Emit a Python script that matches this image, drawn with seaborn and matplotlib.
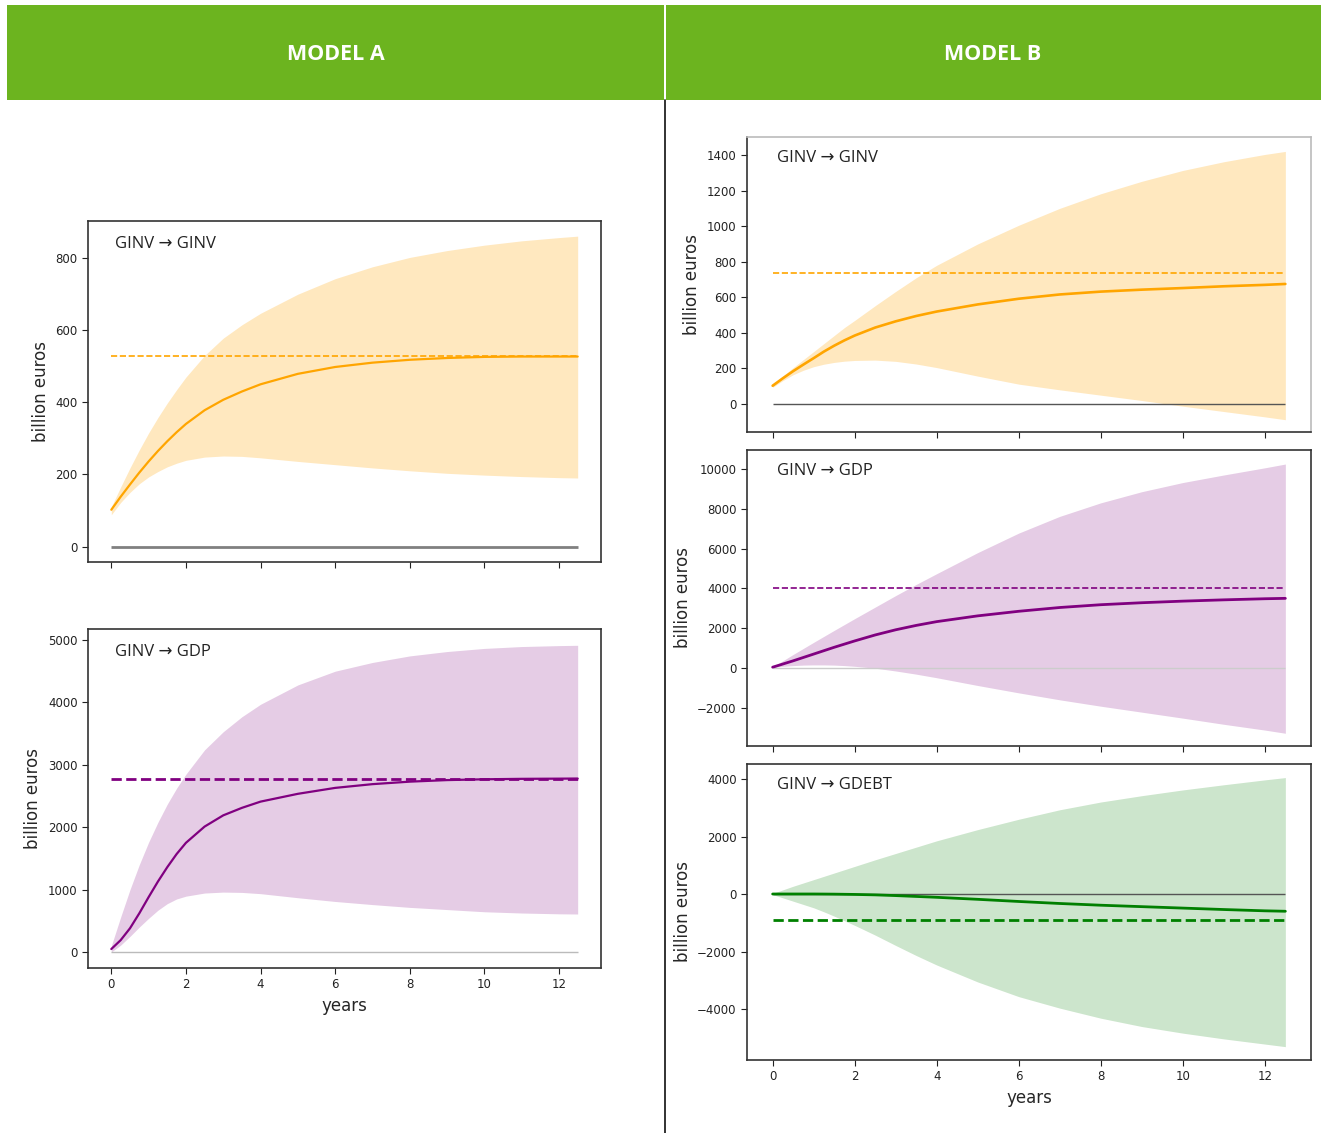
import numpy as np
import pandas as pd
import matplotlib
matplotlib.use("Agg")
import matplotlib.pyplot as plt
from matplotlib.patches import Rectangle
from matplotlib.lines import Line2D
import seaborn as sns

# years after the shock
years = [0, 0.25, 0.5, 0.75, 1, 1.25, 1.5, 1.75, 2, 2.5, 3, 3.5, 4, 5, 6, 7, 8, 9, 10, 11, 12, 12.5]

# model A, GINV -> GINV
a_ginv_med = [102, 138, 172, 205, 236, 265, 292, 317, 340, 378, 407, 430, 450, 479, 498, 510, 518, 523, 526, 527, 527, 527]
a_ginv_lo = [88, 122, 150, 174, 193, 208, 221, 231, 239, 248, 251, 250, 246, 236, 227, 218, 210, 203, 198, 194, 191, 190]
a_ginv_hi = [110, 165, 218, 268, 315, 358, 398, 435, 470, 530, 578, 615, 647, 700, 743, 776, 802, 821, 836, 848, 857, 861]
a_ginv_lr = 528

# model A, GINV -> GDP
a_gdp_med = [48, 190, 380, 620, 880, 1130, 1360, 1570, 1750, 2010, 2190, 2310, 2410, 2535, 2630, 2690, 2730, 2755, 2768, 2775, 2778, 2780]
a_gdp_lo = [0, 110, 250, 400, 540, 670, 775, 850, 895, 945, 960, 955, 935, 870, 810, 760, 715, 680, 645, 625, 612, 609]
a_gdp_hi = [100, 560, 1000, 1400, 1760, 2080, 2370, 2625, 2850, 3240, 3530, 3770, 3970, 4280, 4500, 4640, 4745, 4815, 4865, 4895, 4910, 4915]
a_gdp_lr = 2780

# model B, GINV -> GINV
b_ginv_med = [103, 145, 185, 222, 258, 295, 328, 358, 385, 430, 465, 495, 520, 560, 592, 616, 632, 643, 652, 662, 670, 675]
b_ginv_lo = [94, 132, 165, 190, 210, 224, 234, 241, 245, 247, 240, 225, 205, 157, 112, 80, 50, 20, -12, -42, -72, -88]
b_ginv_hi = [110, 158, 205, 250, 295, 340, 385, 430, 470, 553, 633, 710, 780, 900, 1005, 1100, 1182, 1252, 1313, 1362, 1403, 1420]
b_ginv_lr = 737

# model B, GINV -> GDP
b_gdp_med = [40, 200, 360, 530, 700, 870, 1040, 1200, 1360, 1660, 1920, 2140, 2330, 2620, 2850, 3040, 3180, 3280, 3360, 3425, 3480, 3500]
b_gdp_lo = [30, 85, 120, 145, 155, 155, 145, 120, 85, -10, -150, -310, -490, -880, -1250, -1600, -1920, -2220, -2520, -2830, -3120, -3280]
b_gdp_hi = [50, 365, 680, 985, 1290, 1590, 1890, 2185, 2480, 3060, 3640, 4200, 4740, 5800, 6780, 7620, 8300, 8860, 9320, 9700, 10060, 10250]
b_gdp_lr = 4000

# model B, GINV -> GDEBT
b_debt_med = [0, 0, 0, 0, 0, -2, -5, -10, -15, -30, -55, -85, -115, -185, -260, -330, -390, -440, -490, -540, -585, -600]
b_debt_lo = [-20, -135, -250, -365, -480, -620, -770, -930, -1090, -1430, -1790, -2140, -2470, -3060, -3570, -3970, -4320, -4610, -4840, -5040, -5220, -5310]
b_debt_hi = [20, 145, 270, 385, 500, 615, 730, 845, 960, 1190, 1410, 1630, 1850, 2240, 2600, 2930, 3200, 3420, 3620, 3800, 3970, 4050]
b_debt_lr = -900

sns.set_style("ticks")
plt.rcParams['font.family'] = ['DejaVu Sans']

W, H = 1321, 1133
fig = plt.figure(figsize=(W / 100, H / 100), dpi=100)

green = '#6cb41f'
fig.add_artist(Rectangle((7 / W, 1 - 100 / H), 657 / W, 95 / H, transform=fig.transFigure, color=green, lw=0))
fig.add_artist(Rectangle((666 / W, 1 - 100 / H), 655 / W, 95 / H, transform=fig.transFigure, color=green, lw=0))
fig.add_artist(Line2D([665 / W, 665 / W], [0, 1 - 100 / H], transform=fig.transFigure, color='#222222', lw=1.3))
fig.text(336 / W, 1 - 55 / H, "MODEL A", color='white', fontsize=15.5, fontweight='bold',
         ha='center', va='center', family=['Open Sans', 'DejaVu Sans'])
fig.text(993 / W, 1 - 55 / H, "MODEL B", color='white', fontsize=15.5, fontweight='bold',
         ha='center', va='center', family=['Open Sans', 'DejaVu Sans'])


def px_axes(x0, y0, x1, y1):
    return fig.add_axes([x0 / W, 1 - y1 / H, (x1 - x0) / W, (y1 - y0) / H])


def panel(ax, title, med, lo, hi, lr, color, alpha, ylim, yticks,
          lr_lw=1.2, med_lw=1.6, zero_color='gray', zero_lw=1.0, xlabels=False):
    df = pd.DataFrame({'years': years, 'med': med, 'lo': lo, 'hi': hi})
    ax.fill_between(df['years'], df['lo'], df['hi'], color=color, alpha=alpha, lw=0)
    ax.hlines(0, years[0], years[-1], color=zero_color, lw=zero_lw)
    ax.hlines(lr, years[0], years[-1], color=color, lw=lr_lw, linestyles='--')
    sns.lineplot(data=df, x='years', y='med', color=color, lw=med_lw, ax=ax)
    ax.set_xlim(-0.625, 13.125)
    ax.set_ylim(*ylim)
    ax.set_xticks([0, 2, 4, 6, 8, 10, 12])
    ax.set_yticks(yticks)
    ax.tick_params(labelsize=8.5, length=4, colors='#222222')
    if not xlabels:
        ax.set_xticklabels([])
        ax.set_xlabel('')
    else:
        ax.set_xlabel('years', fontsize=12)
    ax.set_ylabel('billion euros', fontsize=12)
    for s in ax.spines.values():
        s.set_color('#333333')
        s.set_linewidth(1.2)
    ax.text(0.053, 0.955, title, transform=ax.transAxes, ha='left', va='top',
            fontsize=12, color='#222222', family=['Open Sans', 'DejaVu Sans'])


ax1 = px_axes(88, 221, 601, 562)
panel(ax1, "GINV \u2192 GINV", a_ginv_med, a_ginv_lo, a_ginv_hi, a_ginv_lr, 'orange', 0.25,
      (-43, 903), [0, 200, 400, 600, 800], zero_lw=2.0)

ax2 = px_axes(88, 629, 601, 968)
panel(ax2, "GINV \u2192 GDP", a_gdp_med, a_gdp_lo, a_gdp_hi, a_gdp_lr, 'purple', 0.2,
      (-256, 5176), [0, 1000, 2000, 3000, 4000, 5000], lr_lw=2.0, zero_color='#bbbbbb', xlabels=True)

ax3 = px_axes(747, 137, 1311, 432)
panel(ax3, "GINV \u2192 GINV", b_ginv_med, b_ginv_lo, b_ginv_hi, b_ginv_lr, 'orange', 0.25,
      (-157, 1501), [0, 200, 400, 600, 800, 1000, 1200, 1400], med_lw=1.9, zero_color='#555555')
ax3.spines['top'].set_color('#bbbbbb')
ax3.spines['right'].set_color('#bbbbbb')

ax4 = px_axes(747, 450, 1311, 746)
panel(ax4, "GINV \u2192 GDP", b_gdp_med, b_gdp_lo, b_gdp_hi, b_gdp_lr, 'purple', 0.2,
      (-3920, 10955), [-2000, 0, 2000, 4000, 6000, 8000, 10000], med_lw=2.0, zero_color='#cccccc')

ax5 = px_axes(747, 764, 1311, 1060)
panel(ax5, "GINV \u2192 GDEBT", b_debt_med, b_debt_lo, b_debt_hi, b_debt_lr, 'green', 0.2,
      (-5774, 4522), [-4000, -2000, 0, 2000, 4000], lr_lw=2.0, med_lw=2.0, zero_color='#555555',
      xlabels=True)

fig.savefig('out.png', dpi=100)
